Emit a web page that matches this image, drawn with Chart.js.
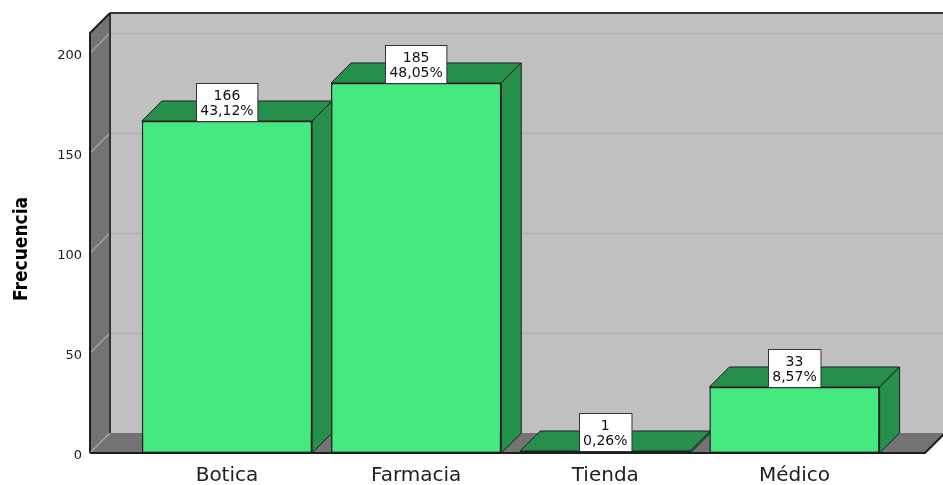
<!DOCTYPE html>
<html>
<head>
<meta charset="utf-8">
<script src="https://cdn.jsdelivr.net/npm/chart.js@4/dist/chart.umd.min.js"></script>
<style>
  body { margin: 0; background: #fff; }
  #wrap { width: 943px; height: 485px; }
</style>
</head>
<body>
<div id="wrap"><canvas id="barChart" width="943" height="485"></canvas></div>
<script>
// data
const categories = ['Botica', 'Farmacia', 'Tienda', 'Médico'];
const counts = [166, 185, 1, 33];
const percents = ['43,12%', '48,05%', '0,26%', '8,57%'];
const yTicks = [0, 50, 100, 150, 200];

// depth of the fake 3d effect
const DX = 20, DY = -20;
const frontGreen = '#42ea80';
const sideGreen = '#268f4c';
const edge = '#1e1e1e';

function poly(ctx, pts, fill, stroke) {
  ctx.beginPath();
  ctx.moveTo(pts[0][0], pts[0][1]);
  for (let i = 1; i < pts.length; i++) ctx.lineTo(pts[i][0], pts[i][1]);
  ctx.closePath();
  if (fill) { ctx.fillStyle = fill; ctx.fill(); }
  if (stroke) { ctx.strokeStyle = stroke; ctx.lineWidth = 1; ctx.stroke(); }
}

const box3d = {
  id: 'box3d',
  beforeDatasetsDraw(chart) {
    const ctx = chart.ctx;
    const a = chart.chartArea;
    const y = chart.scales.y;
    ctx.save();
    // back wall
    poly(ctx, [[a.left + DX, a.top + DY], [a.right + DX + 5, a.top + DY],
               [a.right + DX + 5, a.bottom + DY], [a.left + DX, a.bottom + DY]], '#c0c0c0');
    yTicks.forEach(v => {
      if (v === 0) return;
      const py = Math.round(y.getPixelForValue(v) + DY) + 0.5;
      ctx.strokeStyle = '#b0b0b0';
      ctx.lineWidth = 1.5;
      ctx.beginPath(); ctx.moveTo(a.left + DX, py); ctx.lineTo(a.right + DX + 5, py); ctx.stroke();
    });
    ctx.strokeStyle = '#3a3a3a';
    ctx.lineWidth = 2;
    ctx.beginPath(); ctx.moveTo(a.left + DX, a.top + DY); ctx.lineTo(a.right + DX + 5, a.top + DY); ctx.stroke();
    ctx.lineWidth = 1.5;
    ctx.beginPath(); ctx.moveTo(a.left + DX, a.top + DY); ctx.lineTo(a.left + DX, a.bottom + DY); ctx.stroke();

    // left wall
    poly(ctx, [[a.left, a.top], [a.left + DX, a.top + DY], [a.left + DX, a.bottom + DY], [a.left, a.bottom]], '#737373');
    yTicks.forEach(v => {
      const py = y.getPixelForValue(v);
      ctx.strokeStyle = '#a4a4a4';
      ctx.lineWidth = 1.2;
      ctx.beginPath(); ctx.moveTo(a.left, py); ctx.lineTo(a.left + DX, py + DY); ctx.stroke();
    });
    ctx.strokeStyle = edge;
    ctx.lineWidth = 2;
    ctx.beginPath();
    ctx.moveTo(a.left, a.bottom); ctx.lineTo(a.left, a.top); ctx.lineTo(a.left + DX, a.top + DY);
    ctx.stroke();
    ctx.lineWidth = 1.5;
    ctx.beginPath(); ctx.moveTo(a.left + DX, a.top + DY); ctx.lineTo(a.left + DX, a.bottom + DY); ctx.stroke();

    // floor
    poly(ctx, [[a.left, a.bottom], [a.left + DX, a.bottom + DY], [a.right + DX, a.bottom + DY], [a.right, a.bottom]], '#737373');
    ctx.strokeStyle = '#a4a4a4';
    ctx.lineWidth = 1.2;
    ctx.beginPath(); ctx.moveTo(a.left, a.bottom); ctx.lineTo(a.left + DX, a.bottom + DY); ctx.stroke();
    ctx.strokeStyle = edge;
    ctx.lineWidth = 2;
    ctx.beginPath();
    ctx.moveTo(a.left, a.bottom); ctx.lineTo(a.right, a.bottom); ctx.lineTo(a.right + DX, a.bottom + DY);
    ctx.stroke();

    // bar tops and sides
    const meta = chart.getDatasetMeta(0);
    meta.data.forEach(bar => {
      const l = bar.x - bar.width / 2, r = bar.x + bar.width / 2;
      poly(ctx, [[l, bar.y], [l + DX, bar.y + DY], [r + DX, bar.y + DY], [r, bar.y]], sideGreen, edge);
      poly(ctx, [[r, bar.y], [r + DX, bar.y + DY], [r + DX, bar.base + DY], [r, bar.base]], sideGreen, edge);
    });
    ctx.restore();
  },
  afterDatasetsDraw(chart) {
    const ctx = chart.ctx;
    const meta = chart.getDatasetMeta(0);
    ctx.save();
    ctx.font = '14px "DejaVu Sans", sans-serif';
    ctx.textAlign = 'center';
    ctx.textBaseline = 'middle';
    meta.data.forEach((bar, i) => {
      const l1 = String(counts[i]), l2 = percents[i];
      const w = Math.max(ctx.measureText(l1).width, ctx.measureText(l2).width) + 8;
      const h = 38;
      const bx = Math.round(bar.x - w / 2) + 0.5;
      const by = Math.round(bar.y - h) + 0.5;
      ctx.fillStyle = '#fff';
      ctx.fillRect(bx, by, w, h);
      ctx.strokeStyle = '#333';
      ctx.lineWidth = 1;
      ctx.strokeRect(bx, by, w, h);
      ctx.fillStyle = '#111';
      ctx.fillText(l1, bar.x, by + 13);
      ctx.fillText(l2, bar.x, by + 28);
    });
    ctx.restore();
  }
};

const ctx = document.getElementById('barChart');

new Chart(ctx, {
  type: 'bar',
  data: {
    datasets: [{
      label: 'Frecuencia',
      data: categories.map((c, i) => ({ x: i, y: counts[i] })),
      backgroundColor: frontGreen,
      borderColor: edge,
      borderWidth: 1.5,
      borderSkipped: false,
      barPercentage: 0.9,
      categoryPercentage: 1
    }]
  },
  options: {
    responsive: false,
    animation: false,
    layout: { padding: { top: 33, right: 18, left: 0, bottom: 0 } },
    plugins: { legend: { display: false }, tooltip: { enabled: false } },
    scales: {
      x: {
        type: 'linear',
        offset: false,
        min: -0.724,
        max: 3.69,
        afterBuildTicks: s => { s.ticks = categories.map((c, i) => ({ value: i })); },
        afterFit: s => { s.height = 32; },
        grid: { display: false, drawTicks: false },
        border: { display: false },
        ticks: {
          autoSkip: false,
          maxRotation: 0,
          padding: 11,
          color: '#222',
          font: { family: '"DejaVu Sans", sans-serif', size: 20 },
          callback: v => categories[v]
        }
      },
      y: {
        min: 0,
        max: 210,
        afterBuildTicks: s => { s.ticks = yTicks.map(v => ({ value: v })); },
        afterFit: s => { s.width = 90; },
        grid: { display: false, drawTicks: false },
        border: { display: false },
        ticks: {
          padding: 8,
          labelOffset: 3,
          color: '#222',
          font: { family: '"DejaVu Sans", sans-serif', size: 13 }
        },
        title: {
          display: true,
          text: 'Frecuencia  ',
          color: '#000',
          padding: { top: 11, bottom: 0 },
          font: { family: '"Liberation Sans Narrow", "DejaVu Sans", sans-serif', size: 19, weight: 'bold condensed' }
        }
      }
    }
  },
  plugins: [box3d]
});
</script>
</body>
</html>
